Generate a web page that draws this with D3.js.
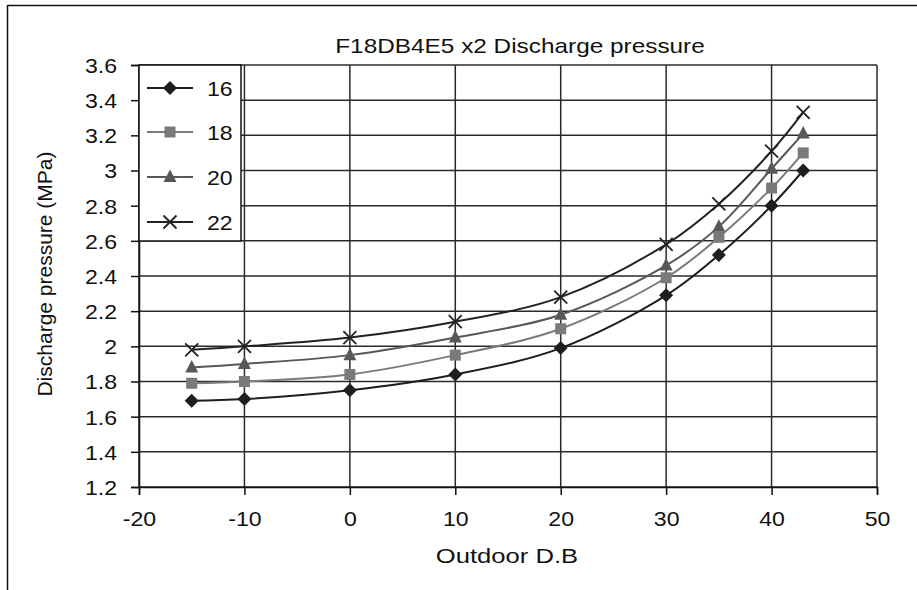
<!DOCTYPE html>
<html><head><meta charset="utf-8">
<script src="https://cdn.jsdelivr.net/npm/d3@7"></script>
<style>body{margin:0;background:#fff;} text{font-family:"Liberation Sans",Arial,sans-serif;fill:#111;}</style>
</head><body>
<svg id="c" width="917" height="590"></svg>
<script>
const title = "F18DB4E5 x2 Discharge pressure";
const xTitle = "Outdoor D.B";
const yTitle = "Discharge pressure (MPa)";
const xValues = [-15, -10, 0, 10, 20, 30, 35, 40, 43];
const seriesNames = ["16", "18", "20", "22"];
const s16 = [1.69, 1.70, 1.75, 1.84, 1.99, 2.29, 2.52, 2.80, 3.00];
const s18 = [1.79, 1.80, 1.84, 1.95, 2.10, 2.39, 2.62, 2.90, 3.10];
const s20 = [1.88, 1.90, 1.95, 2.05, 2.18, 2.46, 2.68, 3.01, 3.21];
const s22 = [1.98, 2.00, 2.05, 2.14, 2.28, 2.58, 2.81, 3.11, 3.33];
const xTicks = [-20, -10, 0, 10, 20, 30, 40, 50];
const yTicks = [1.2, 1.4, 1.6, 1.8, 2, 2.2, 2.4, 2.6, 2.8, 3, 3.2, 3.4, 3.6];

const series = [
  {name: seriesNames[0], values: s16, color: "#1e1e1e", marker: "diamond"},
  {name: seriesNames[1], values: s18, color: "#7a7a7a", marker: "square"},
  {name: seriesNames[2], values: s20, color: "#585858", marker: "triangle"},
  {name: seriesNames[3], values: s22, color: "#222222", marker: "cross"}
];

const svg = d3.select("#c");
const L = 139, R = 877, T = 65, B = 487;
const x = d3.scaleLinear().domain([-20, 50]).range([L, R]);
const y = d3.scaleLinear().domain([1.2, 3.6]).range([B, T]);
const FS = 21;
const STRETCH = 1.1;
function widen(sel, k) {
  sel.each(function () {
    const w = this.getComputedTextLength();
    d3.select(this).attr("textLength", w * k).attr("lengthAdjust", "spacingAndGlyphs");
  });
}

// outer frame
svg.append("line").attr("x1", 7.5).attr("x2", 917).attr("y1", 5.5).attr("y2", 5.5).attr("stroke", "#111").attr("stroke-width", 1.5);
svg.append("line").attr("x1", 7.5).attr("x2", 7.5).attr("y1", 5).attr("y2", 590).attr("stroke", "#111").attr("stroke-width", 1.5);

// gridlines
const grid = svg.append("g");
grid.selectAll(".h").data(yTicks).join("line")
  .attr("x1", L).attr("x2", R).attr("y1", d => y(d)).attr("y2", d => y(d))
  .attr("stroke", "#2a2a2a").attr("stroke-width", 1.5);
grid.selectAll(".v").data(xTicks).join("line")
  .attr("y1", T).attr("y2", B).attr("x1", d => x(d)).attr("x2", d => x(d))
  .attr("stroke", "#2a2a2a").attr("stroke-width", 1.5);

// axes
const xAxis = d3.axisBottom(x).tickValues(xTicks).tickSize(8).tickPadding(16).tickFormat(d => String(d));
const yAxis = d3.axisLeft(y).tickValues(yTicks).tickSize(8).tickPadding(14).tickFormat(d => String(+d.toFixed(1)));
const gx = svg.append("g").attr("transform", `translate(0,${B})`).call(xAxis);
const gy = svg.append("g").attr("transform", `translate(${L},0)`).call(yAxis);
[gx, gy].forEach(g => {
  g.select(".domain").attr("stroke", "#111").attr("stroke-width", 1.5);
  g.selectAll(".tick line").attr("stroke", "#111").attr("stroke-width", 1.5);
  g.selectAll(".tick text").attr("font-size", FS).attr("font-family", "Liberation Sans, Arial, sans-serif").attr("fill", "#111");
  widen(g.selectAll(".tick text"), STRETCH);
});
gy.selectAll(".tick text").attr("dy", "0.35em");

// lines
const line = d3.line().x((d, i) => x(xValues[i])).y(d => y(d)).curve(d3.curveCatmullRom.alpha(0.5));

function drawMarker(g, m, cx, cy, color) {
  let d;
  if (m === "cross") {
    const s = 6.5;
    g.append("path").attr("d", `M${cx - s},${cy - s}L${cx + s},${cy + s}M${cx - s},${cy + s}L${cx + s},${cy - s}`)
      .attr("stroke", color).attr("stroke-width", 1.8).attr("fill", "none");
    return;
  }
  if (m === "diamond") { const s = 7; d = `M${cx},${cy - s}L${cx + s},${cy}L${cx},${cy + s}L${cx - s},${cy}Z`; }
  else if (m === "square") { const s = 5.5; d = `M${cx - s},${cy - s}H${cx + s}V${cy + s}H${cx - s}Z`; }
  else { const s = 6.5; d = `M${cx},${cy - 7.5}L${cx + s},${cy + 5}L${cx - s},${cy + 5}Z`; }
  g.append("path").attr("d", d).attr("fill", color);
}

series.forEach(s => {
  svg.append("path").datum(s.values).attr("d", line).attr("fill", "none")
    .attr("stroke", s.color).attr("stroke-width", 2);
  const g = svg.append("g");
  s.values.forEach((v, i) => drawMarker(g, s.marker, x(xValues[i]), y(v), s.color));
});

// legend
const lg = svg.append("g");
lg.append("rect").attr("x", L).attr("y", T).attr("width", 102).attr("height", 176)
  .attr("fill", "#fff").attr("stroke", "#111").attr("stroke-width", 1.5);
const legendY = [88, 132, 177, 222];
series.forEach((s, i) => {
  const ly = legendY[i];
  lg.append("line").attr("x1", 147).attr("x2", 193).attr("y1", ly).attr("y2", ly)
    .attr("stroke", s.color).attr("stroke-width", 2);
  drawMarker(lg, s.marker, 170, ly, s.color);
  lg.append("text").attr("x", 207).attr("y", ly).attr("dy", "0.36em").attr("font-size", FS).text(s.name);
});
widen(lg.selectAll("text"), STRETCH);

// titles (slightly widened glyphs, like the reference)
svg.append("text").attr("transform", "translate(520,53) scale(1.16,1)").attr("text-anchor", "middle")
  .attr("font-size", 21).text(title);
svg.append("text").attr("transform", "translate(507,563) scale(1.22,1)").attr("text-anchor", "middle")
  .attr("font-size", FS).text(xTitle);
svg.append("text").attr("transform", "translate(52,274) rotate(-90)").attr("text-anchor", "middle").attr("font-size", FS).text(yTitle);
</script>
</body></html>
